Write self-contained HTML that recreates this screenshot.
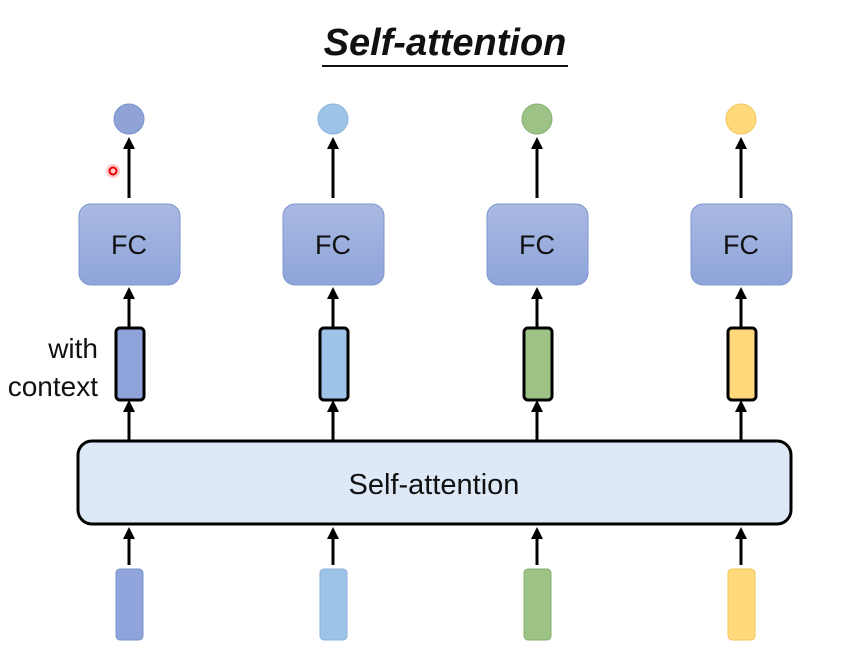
<!DOCTYPE html>
<html><head><style>body{margin:0;background:#fff}</style></head><body>
<svg width="848" height="648" xmlns="http://www.w3.org/2000/svg">
<defs>
<marker id="a" markerWidth="12" markerHeight="12" refX="3" refY="6" orient="auto" markerUnits="userSpaceOnUse" viewBox="0 0 12 12"><path d="M0,0 L12,6 L0,12 z" fill="#000"/></marker>
<linearGradient id="fc" x1="0" y1="0" x2="0" y2="1"><stop offset="0" stop-color="#a9b9e2"/><stop offset="1" stop-color="#8ea4da"/></linearGradient>
</defs>
<text x="445" y="55" text-anchor="middle" font-family="Liberation Sans, sans-serif" font-size="38" font-weight="bold" font-style="italic" fill="#111">Self-attention</text>
<line x1="322" y1="66" x2="568" y2="66" stroke="#111" stroke-width="2"/>
<rect x="78" y="441" width="713" height="83" rx="14" fill="#dde9f6" stroke="#000" stroke-width="3"/>
<text x="434" y="494" text-anchor="middle" font-family="Liberation Sans, sans-serif" font-size="29" fill="#111">Self-attention</text>
<text x="98" y="358" text-anchor="end" font-family="Liberation Sans, sans-serif" font-size="28" fill="#111">with</text>
<text x="98" y="396" text-anchor="end" font-family="Liberation Sans, sans-serif" font-size="28" fill="#111">context</text>
<g font-family="Liberation Sans, sans-serif" font-size="27" text-anchor="middle" fill="#111">
<circle cx="129" cy="119" r="15" fill="#8fa3d6" stroke="#7a93cf"/>
<line x1="129" y1="198" x2="129" y2="146" stroke="#000" stroke-width="3" marker-end="url(#a)"/>
<rect x="79" y="204" width="101" height="81" rx="12" fill="url(#fc)" stroke="#7f96cf"/>
<text x="129" y="254">FC</text>
<line x1="129" y1="328" x2="129" y2="296" stroke="#000" stroke-width="3" marker-end="url(#a)"/>
<rect x="116" y="328" width="28" height="72" rx="4" fill="#8ea4da" stroke="#000" stroke-width="3"/>
<line x1="129" y1="440" x2="129" y2="409" stroke="#000" stroke-width="3" marker-end="url(#a)"/>
<line x1="129" y1="565" x2="129" y2="536" stroke="#000" stroke-width="3" marker-end="url(#a)"/>
<rect x="116" y="569" width="27" height="71" rx="4" fill="#8ea4da" stroke="#7a93cf"/>

<circle cx="333" cy="119" r="15" fill="#9dc3e6" stroke="#8ab3dc"/>
<line x1="333" y1="198" x2="333" y2="146" stroke="#000" stroke-width="3" marker-end="url(#a)"/>
<rect x="283" y="204" width="101" height="81" rx="12" fill="url(#fc)" stroke="#7f96cf"/>
<text x="333" y="254">FC</text>
<line x1="333" y1="328" x2="333" y2="296" stroke="#000" stroke-width="3" marker-end="url(#a)"/>
<rect x="320" y="328" width="28" height="72" rx="4" fill="#9dc3e6" stroke="#000" stroke-width="3"/>
<line x1="333" y1="440" x2="333" y2="409" stroke="#000" stroke-width="3" marker-end="url(#a)"/>
<line x1="333" y1="565" x2="333" y2="536" stroke="#000" stroke-width="3" marker-end="url(#a)"/>
<rect x="320" y="569" width="27" height="71" rx="4" fill="#9dc3e6" stroke="#8ab3dc"/>

<circle cx="537" cy="119" r="15" fill="#9cc286" stroke="#86b06f"/>
<line x1="537" y1="198" x2="537" y2="146" stroke="#000" stroke-width="3" marker-end="url(#a)"/>
<rect x="487" y="204" width="101" height="81" rx="12" fill="url(#fc)" stroke="#7f96cf"/>
<text x="537" y="254">FC</text>
<line x1="537" y1="328" x2="537" y2="296" stroke="#000" stroke-width="3" marker-end="url(#a)"/>
<rect x="524" y="328" width="28" height="72" rx="4" fill="#9cc286" stroke="#000" stroke-width="3"/>
<line x1="537" y1="440" x2="537" y2="409" stroke="#000" stroke-width="3" marker-end="url(#a)"/>
<line x1="537" y1="565" x2="537" y2="536" stroke="#000" stroke-width="3" marker-end="url(#a)"/>
<rect x="524" y="569" width="27" height="71" rx="4" fill="#9cc286" stroke="#86b06f"/>

<circle cx="741" cy="119" r="15" fill="#ffd97c" stroke="#f2c65a"/>
<line x1="741" y1="198" x2="741" y2="146" stroke="#000" stroke-width="3" marker-end="url(#a)"/>
<rect x="691" y="204" width="101" height="81" rx="12" fill="url(#fc)" stroke="#7f96cf"/>
<text x="741" y="254">FC</text>
<line x1="741" y1="328" x2="741" y2="296" stroke="#000" stroke-width="3" marker-end="url(#a)"/>
<rect x="728" y="328" width="28" height="72" rx="4" fill="#ffd97c" stroke="#000" stroke-width="3"/>
<line x1="741" y1="440" x2="741" y2="409" stroke="#000" stroke-width="3" marker-end="url(#a)"/>
<line x1="741" y1="565" x2="741" y2="536" stroke="#000" stroke-width="3" marker-end="url(#a)"/>
<rect x="728" y="569" width="27" height="71" rx="4" fill="#ffd97c" stroke="#f2c65a"/>
</g>
<circle cx="113" cy="171" r="7" fill="#ff0000" opacity="0.2"/>
<circle cx="113" cy="171" r="3.5" fill="none" stroke="#e00" stroke-width="2"/>
</svg>
</body></html>
